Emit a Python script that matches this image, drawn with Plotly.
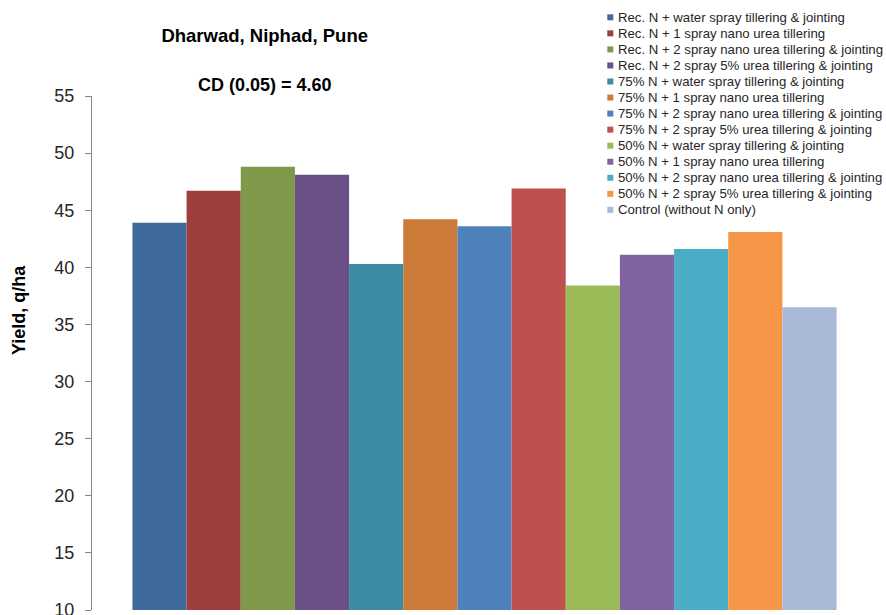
import plotly.graph_objects as go

# Treatments (legend order) and grain yield, q/ha
treatments = [
    "Rec. N + water spray tillering & jointing",
    "Rec. N + 1 spray nano urea tillering",
    "Rec. N + 2 spray nano urea tillering & jointing",
    "Rec. N + 2 spray 5% urea tillering & jointing",
    "75% N + water spray tillering & jointing",
    "75% N + 1 spray nano urea tillering",
    "75% N + 2 spray nano urea tillering & jointing",
    "75% N + 2 spray 5% urea tillering & jointing",
    "50% N + water spray tillering & jointing",
    "50% N + 1 spray nano urea tillering",
    "50% N + 2 spray nano urea tillering & jointing",
    "50% N + 2 spray 5% urea tillering & jointing",
    "Control (without N only)",
]
yields = [43.9, 46.7, 48.8, 48.1, 40.3, 44.2, 43.6, 46.9, 38.4, 41.1, 41.6, 43.1, 36.5]
colors = [
    "#3F6A9C", "#9D3F3E", "#7F994A", "#6A5087", "#3B8BA2", "#CC7A37",
    "#4F81BD", "#C0504D", "#9BBB59", "#8064A2", "#4BACC6", "#F79646",
    "#A9BAD9",
]
category = ["Dharwad, Niphad, Pune"]
y_ticks = [10, 15, 20, 25, 30, 35, 40, 45, 50, 55]

FONT = "Liberation Sans"
TEXT = "#262626"

fig = go.Figure()
for name, val, col in zip(treatments, yields, colors):
    fig.add_trace(go.Bar(
        x=category, y=[val], name=name,
        marker=dict(color=col, line=dict(width=0)),
        showlegend=False,
    ))

# Compact legend block drawn as swatches + labels
L_TOP = 17.3      # pixel centre of first row
L_STEP = 16.05    # row pitch, px
PLOT_L, PLOT_T, PLOT_W, PLOT_H = 92, 96, 785, 514
shapes, annotations = [], []
for i, (name, col) in enumerate(zip(treatments, colors)):
    ypix = L_TOP + L_STEP * i
    yp = (PLOT_T + PLOT_H - ypix) / PLOT_H
    shapes.append(dict(
        type="rect", xref="paper", yref="paper",
        xsizemode="pixel", ysizemode="pixel",
        xanchor=(610.3 - PLOT_L) / PLOT_W, yanchor=yp,
        x0=-3, x1=3, y0=-3, y1=3,
        fillcolor=col, line=dict(width=0),
    ))
    annotations.append(dict(
        text=name, xref="paper", yref="paper",
        x=(615.8 - PLOT_L) / PLOT_W, y=yp,
        xanchor="left", yanchor="middle", showarrow=False,
        font=dict(family=FONT, size=13.2, color=TEXT),
    ))

annotations.append(dict(
    text="<b>CD (0.05) = 4.60</b>", xref="paper", yref="paper",
    x=(264.7 - PLOT_L) / PLOT_W, y=(PLOT_T + PLOT_H - 85) / PLOT_H,
    xanchor="center", yanchor="middle", showarrow=False,
    font=dict(family=FONT, size=18, color="#000000"),
))
annotations.append(dict(
    text="<b>Yield, q/ha</b>", xref="paper", yref="paper",
    x=(19 - PLOT_L) / PLOT_W, y=(PLOT_T + PLOT_H - 310) / PLOT_H,
    xanchor="center", yanchor="middle", textangle=-90, showarrow=False,
    font=dict(family=FONT, size=18, color="#000000"),
))

fig.update_layout(
    width=886, height=615,
    margin=dict(l=PLOT_L, r=886 - PLOT_L - PLOT_W, t=PLOT_T, b=615 - PLOT_T - PLOT_H),
    paper_bgcolor="white", plot_bgcolor="white",
    barmode="group", bargap=0.103, bargroupgap=0,
    title=dict(
        text="<b>Dharwad, Niphad, Pune</b>",
        x=264.7 / 886, xref="container", xanchor="center",
        y=1 - 36 / 615, yref="container", yanchor="middle",
        font=dict(family=FONT, size=18.5, color="#000000"),
        automargin=False,
    ),
    xaxis=dict(showticklabels=False, showline=False, showgrid=False,
               ticks="", zeroline=False, automargin=False),
    yaxis=dict(
        range=[10, 55], tickvals=y_ticks, showgrid=False, zeroline=False,
        showline=True, linecolor="#868686", linewidth=1,
        ticks="outside", ticklen=6, tickcolor="#868686",
        tickfont=dict(family=FONT, size=18, color=TEXT),
        ticklabelstandoff=7, ticklabeloverflow="allow",
        automargin=False,
    ),
    shapes=shapes, annotations=annotations,
    font=dict(family=FONT),
)

fig.write_html("out.html")
